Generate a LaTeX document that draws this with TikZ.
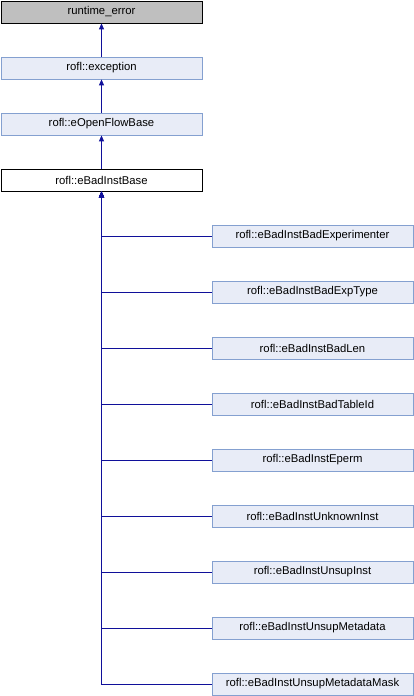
\documentclass[tikz,border=0pt]{standalone}
\usepackage{fontspec}
\setmainfont{Liberation Sans}
\usetikzlibrary{arrows.meta}
\definecolor{edgec}{HTML}{10109A}
\definecolor{grayfill}{HTML}{BFBFBF}
\definecolor{bluefill}{HTML}{E8ECF7}
\definecolor{blueborder}{HTML}{84A0D0}
\begin{document}
\begin{tikzpicture}[x=1pt,y=-1pt,
  cls/.style={draw, minimum width=201pt, minimum height=22pt, inner sep=0pt, font=\fontsize{11.3}{13}\selectfont, line width=0.8pt},
  graybox/.style={cls, fill=grayfill, draw=black},
  bluebox/.style={cls, fill=bluefill, draw=blueborder},
  whitebox/.style={cls, fill=white, draw=black},
  inh/.style={draw=edgec, line width=0.9pt, -{Triangle[length=6pt,width=5pt,fill=edgec]}}]
\useasboundingbox (0,0) rectangle (414,696);
\node[graybox] (rt) at (101.5,12) {runtime\_error};
\node[bluebox] (ex) at (101.5,68) {rofl::exception};
\node[bluebox] (ofb) at (101.5,124) {rofl::eOpenFlowBase};
\node[whitebox] (base) at (101.5,180) {rofl::eBadInstBase};
\draw[inh] (ex) -- (rt);
\draw[inh] (ofb) -- (ex);
\draw[inh] (base) -- (ofb);
\foreach \n/\t [count=\i from 0] in {c1/rofl::eBadInstBadExperimenter, c2/rofl::eBadInstBadExpType, c3/rofl::eBadInstBadLen, c4/rofl::eBadInstBadTableId, c5/rofl::eBadInstEperm, c6/rofl::eBadInstUnknownInst, c7/rofl::eBadInstUnsupInst, c8/rofl::eBadInstUnsupMetadata, c9/rofl::eBadInstUnsupMetadataMask}{
  \node[bluebox] (\n) at (312.5,236+56*\i) {\t};
  \draw[inh] (\n.west) -| (base.south);
}
\end{tikzpicture}
\end{document}
